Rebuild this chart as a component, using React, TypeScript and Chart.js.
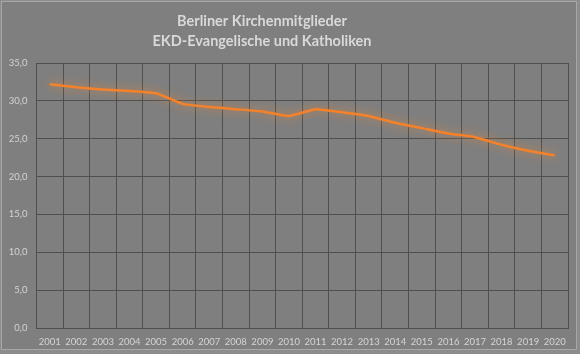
import React, { useEffect, useRef } from "react";
import { Chart, registerables } from "chart.js";

Chart.register(...registerables);

const years = ["2001","2002","2003","2004","2005","2006","2007","2008","2009","2010","2011","2012","2013","2014","2015","2016","2017","2018","2019","2020"];
const members = [32.2, 31.8, 31.5, 31.3, 31.0, 29.6, 29.2, 28.9, 28.6, 28.0, 28.9, 28.5, 28.0, 27.1, 26.4, 25.7, 25.2, 24.2, 23.4, 22.8];
const titleLines = ["Berliner Kirchenmitglieder", "EKD-Evangelische und Katholiken"];

const W = 580, H = 354;

const bgPlugin = {
  id: "bgPlugin",
  beforeDraw(chart: any) {
    const ctx = chart.ctx;
    ctx.save();
    ctx.fillStyle = "#8c8c8c";
    ctx.fillRect(0, 0, W, H);
    ctx.fillStyle = "#7f7f7f";
    ctx.fillRect(1, 1, 576, 349);
    ctx.strokeStyle = "#a8a8a8";
    ctx.lineWidth = 1;
    ctx.strokeRect(1.5, 1.5, 575, 348);
    ctx.fillStyle = "#d9d9d9";
    ctx.font = "bold 14.5px Lato, 'Open Sans', sans-serif";
    ctx.textAlign = "center";
    ctx.textBaseline = "middle";
    ctx.fillText(titleLines[0], 262, 21);
    ctx.fillText(titleLines[1], 262, 41);
    ctx.restore();
  },
  beforeDatasetDraw(chart: any) {
    const ctx = chart.ctx;
    ctx.save();
    ctx.shadowColor = "rgba(255,140,40,0.75)";
    ctx.shadowBlur = 10;
  },
  afterDatasetDraw(chart: any) {
    chart.ctx.restore();
  },
};

export default function App() {
  const ref = useRef<HTMLCanvasElement>(null);
  useEffect(() => {
    const canvas = ref.current!;
    const chart = new Chart(canvas, {
      type: "line",
      data: {
        labels: years,
        datasets: [
          {
            data: members,
            borderColor: "#f5822a",
            borderWidth: 2.5,
            pointRadius: 0,
            tension: 0.15,
            fill: false,
          },
        ],
      },
      options: {
        animation: false,
        responsive: false,
        devicePixelRatio: 1,
        layout: { padding: { left: 0, right: 12, top: 63, bottom: 0 } },
        plugins: { legend: { display: false }, title: { display: false }, tooltip: { enabled: false } },
        scales: {
          x: {
            offset: true,
            grid: { color: "#4f4f4f", lineWidth: 1, drawTicks: false, offset: true },
            border: { color: "#4f4f4f" },
            ticks: { color: "#d4d4d4", font: { family: "Lato, 'Open Sans', sans-serif", size: 9.5 }, padding: 8, maxRotation: 0, autoSkip: false },
            afterFit(axis: any) { axis.height = 26; },
          },
          y: {
            min: 0,
            max: 35,
            grid: { color: "#4f4f4f", lineWidth: 1, drawTicks: false },
            border: { color: "#4f4f4f" },
            ticks: {
              stepSize: 5,
              color: "#d4d4d4",
              padding: 9,
              font: { family: "Lato, 'Open Sans', sans-serif", size: 9.5 },
              callback: (v: any) => Number(v).toFixed(1).replace(".", ","),
            },
            afterFit(axis: any) { axis.width = 36.5; },
          },
        },
      },
      plugins: [bgPlugin],
    });
    return () => chart.destroy();
  }, []);
  return (
    <div style={{ position: "fixed", left: 0, top: 0, width: W, height: H }}>
      <canvas ref={ref} width={W} height={H} style={{ display: "block", width: W, height: H }} />
    </div>
  );
}
